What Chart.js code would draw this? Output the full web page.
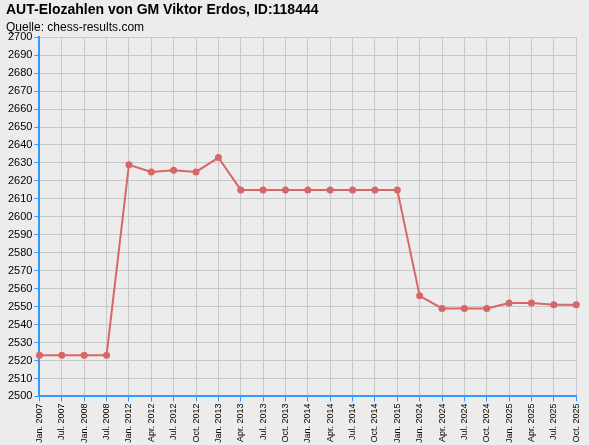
<!DOCTYPE html>
<html><head><meta charset="utf-8">
<script src="https://cdn.jsdelivr.net/npm/chart.js@4"></script>
<style>html,body{margin:0;padding:0;background:#ececec;}#w{width:589px;height:445px;}</style>
</head><body><div id="w"><canvas id="c"></canvas></div>
<script>
const categories=["Jan. 2007","Jul. 2007","Jan. 2008","Jul. 2008","Jan. 2012","Apr. 2012","Jul. 2012","Oct. 2012","Jan. 2013","Apr. 2013","Jul. 2013","Oct. 2013","Jan. 2014","Apr. 2014","Jul. 2014","Oct. 2014","Jan. 2015","Jan. 2024","Apr. 2024","Jul. 2024","Oct. 2024","Jan. 2025","Apr. 2025","Jul. 2025","Oct. 2025"];
const elo=[2523,2523,2523,2523,2629,2625,2626,2625,2633,2615,2615,2615,2615,2615,2615,2615,2615,2556,2549,2549,2549,2552,2552,2551,2551];
const yMin=2500,yMax=2700,yStep=10;
Chart.defaults.font.family="'Liberation Sans', Arial, sans-serif";
Chart.defaults.color="#000";
new Chart(document.getElementById('c'),{type:'line',
data:{labels:categories,datasets:[{data:elo,borderColor:'#d96666',backgroundColor:'#d96666',borderWidth:2,pointRadius:2.5,pointBackgroundColor:'#d96666',tension:0}]},
options:{responsive:true,maintainAspectRatio:false,animation:false,
layout:{padding:{left:6,right:10,top:0,bottom:0}},
plugins:{legend:{display:false},tooltip:{enabled:false},
title:{display:true,text:'AUT-Elozahlen von GM Viktor Erdos, ID:118444',align:'start',font:{size:14,weight:'bold'},padding:{top:2,bottom:0}},
subtitle:{display:true,text:'Quelle: chess-results.com',align:'start',font:{size:12},padding:{top:2,bottom:2}}},
scales:{x:{offset:false,grid:{color:'#c8c8c8',tickColor:'#3399ff',tickLength:5},border:{color:'#3399ff',width:2},
ticks:{maxRotation:90,minRotation:90,autoSkip:false,font:{size:9},padding:2}},
y:{min:yMin,max:yMax,grid:{color:'#c8c8c8',tickColor:'#3399ff',tickLength:5},border:{color:'#3399ff',width:2},
ticks:{stepSize:yStep,font:{size:11},padding:2,callback:v=>String(v)}}}}});
</script></body></html>
